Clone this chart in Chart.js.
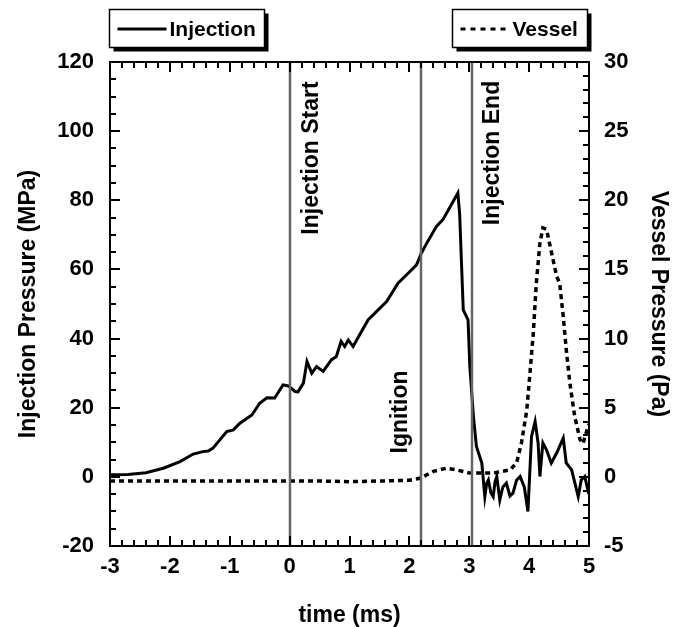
<!DOCTYPE html>
<html lang="en">
<head>
  <meta charset="UTF-8" />
  <title>Injection and Vessel Pressure</title>
  <script src="https://cdn.jsdelivr.net/npm/chart.js"></script>
  <style>
    html, body { margin: 0; padding: 0; background: #fff; }
    #wrap { width: 680px; height: 627px; position: relative; }
  </style>
</head>
<body>
  <div id="wrap"><canvas id="grafico"></canvas></div>

  <script>
    // injection pressure (MPa, left axis)
    const injTime = [-3.00, -2.70, -2.40, -2.11, -1.83, -1.61, -1.45, -1.36, -1.28, -1.05, -0.94, -0.83, -0.63, -0.50, -0.38, -0.25, -0.11, -0.02,
      0.09, 0.14, 0.23, 0.29, 0.37, 0.45, 0.56, 0.70, 0.78, 0.86, 0.92, 0.98, 1.06, 1.17, 1.31, 1.45, 1.62, 1.81, 1.98, 2.12, 2.20, 2.29, 2.45,
      2.56, 2.70, 2.81, 2.84, 2.87, 2.90, 2.98, 3.01, 3.07, 3.12, 3.21, 3.26, 3.29, 3.32, 3.36, 3.40, 3.43, 3.46, 3.51, 3.56, 3.62, 3.68, 3.73,
      3.79, 3.85, 3.92, 3.98, 4.04, 4.10, 4.15, 4.18, 4.23, 4.29, 4.37, 4.46, 4.57, 4.62, 4.71, 4.82, 4.87, 4.93, 4.98, 5.00];
    const injPressure = [0.6, 0.7, 1.2, 2.5, 4.4, 6.6, 7.3, 7.5, 8.3, 13.1, 13.6, 15.5, 17.9, 21.3, 22.9, 22.8, 26.6, 26.3,
      24.7, 24.6, 27.1, 33.4, 30.0, 31.9, 30.5, 33.9, 34.8, 39.2, 37.7, 39.6, 37.7, 41.1, 45.4, 47.8, 50.7, 56.0, 58.9, 61.3, 64.7, 67.6, 72.4,
      74.4, 78.7, 82.1, 76.0, 62.0, 48.3, 45.4, 31.9, 17.4, 8.8, 4.0, -5.7, -2.0, -0.9, -4.5, -5.7, -1.5, 0.1, -6.7, -3.0, -1.8, -5.5, -4.7,
      -1.0, 0.1, -3.0, -10.0, 11.7, 16.0, 9.8, 0.1, 9.8, 7.8, 4.0, 6.9, 11.2, 4.0, 2.0, -5.7, -0.9, 0.1, -3.8, -3.0];

    // vessel pressure (Pa, right axis)
    const vesTime = [-3.00, -1.00, 0.50, 1.00, 1.50, 2.00, 2.18, 2.40, 2.62, 2.79, 3.01, 3.40, 3.68, 3.79, 3.87, 3.96, 4.01, 4.07, 4.12,
      4.18, 4.23, 4.29, 4.35, 4.40, 4.46, 4.51, 4.57, 4.62, 4.68, 4.76, 4.85, 4.90, 4.98, 5.00];
    const vesPressure = [-0.3, -0.3, -0.3, -0.35, -0.3, -0.25, -0.1, 0.4, 0.63, 0.5, 0.27, 0.27, 0.5, 1.0, 2.4, 4.8, 7.3, 10.4, 14.0,
      16.9, 18.0, 17.9, 16.7, 15.7, 14.5, 14.0, 11.6, 9.2, 6.8, 4.4, 2.7, 2.4, 3.6, 3.8];

    // event markers
    const eventTimes = [0, 2.2, 3.05];
    const eventLabels = ['Injection Start', 'Ignition', 'Injection End'];

    const FONT = '"Liberation Sans", Arial, sans-serif';

    const toXY = (xs, ys) => xs.map((x, i) => ({ x: x, y: ys[i] }));

    // inward ticks, frame, event lines, legend boxes
    const decor = {
      id: 'decor',
      afterDatasetsDraw(chart) {
        const ctx = chart.ctx;
        const a = chart.chartArea;
        const sx = chart.scales.x, sy = chart.scales.y, sy1 = chart.scales.y1;
        ctx.save();
        ctx.setLineDash([]);

        // event lines
        ctx.strokeStyle = '#666';
        ctx.lineWidth = 2.5;
        eventTimes.forEach(t => {
          const px = Math.round(sx.getPixelForValue(t));
          ctx.beginPath();
          ctx.moveTo(px, a.top);
          ctx.lineTo(px, a.bottom);
          ctx.stroke();
        });

        // frame
        ctx.strokeStyle = '#000';
        ctx.lineWidth = 2;
        ctx.strokeRect(a.left, a.top, a.right - a.left, a.bottom - a.top);

        // ticks
        ctx.lineWidth = 2;
        ctx.beginPath();
        for (let i = 0; i <= 40; i++) {
          const px = Math.round(sx.getPixelForValue(-3 + i * 0.2));
          const len = i % 5 === 0 ? 10 : 6;
          ctx.moveTo(px, a.bottom); ctx.lineTo(px, a.bottom - len);
          ctx.moveTo(px, a.top); ctx.lineTo(px, a.top + len);
        }
        for (let i = 0; i <= 28; i++) {
          const py = Math.round(sy.getPixelForValue(-20 + i * 5));
          const len = i % 4 === 0 ? 10 : 6;
          ctx.moveTo(a.left, py); ctx.lineTo(a.left + len, py);
        }
        for (let i = 0; i <= 35; i++) {
          const py = Math.round(sy1.getPixelForValue(-5 + i));
          const len = i % 5 === 0 ? 10 : 6;
          ctx.moveTo(a.right, py); ctx.lineTo(a.right - len, py);
        }
        ctx.stroke();

        // event labels (rotated)
        ctx.fillStyle = '#000';
        ctx.font = 'bold 23px ' + FONT;
        ctx.textBaseline = 'middle';
        const placeLabel = (txt, px, cy) => {
          ctx.save();
          ctx.translate(px, cy);
          ctx.rotate(-Math.PI / 2);
          ctx.textAlign = 'center';
          ctx.fillText(txt, 0, 0);
          ctx.restore();
        };
        placeLabel(eventLabels[0], sx.getPixelForValue(eventTimes[0]) + 22, a.top + 96);
        placeLabel(eventLabels[1], sx.getPixelForValue(eventTimes[1]) - 21, a.top + 350);
        placeLabel(eventLabels[2], sx.getPixelForValue(eventTimes[2]) + 20, a.top + 91);

        // legend boxes
        const box = (x, y, w, h, dashed, label) => {
          ctx.fillStyle = '#000';
          ctx.fillRect(x + 4, y + 4, w, h);
          ctx.fillStyle = '#fff';
          ctx.fillRect(x, y, w, h);
          ctx.strokeStyle = '#000';
          ctx.lineWidth = 1.5;
          ctx.setLineDash([]);
          ctx.strokeRect(x, y, w, h);
          ctx.lineWidth = 3;
          if (dashed) ctx.setLineDash([5, 5]);
          ctx.beginPath();
          ctx.moveTo(x + 8, y + 19.5);
          ctx.lineTo(x + 57, y + 19.5);
          ctx.stroke();
          ctx.setLineDash([]);
          ctx.fillStyle = '#000';
          ctx.font = 'bold 21px ' + FONT;
          ctx.textAlign = 'left';
          ctx.textBaseline = 'middle';
          ctx.fillText(label, x + 60, y + 21);
        };
        box(109.5, 9.5, 155, 38, false, chart.data.datasets[0].label);
        box(452.5, 9.5, 135, 38, true, chart.data.datasets[1].label);

        ctx.restore();
      }
    };

    new Chart(document.getElementById('grafico'), {
      type: 'line',
      data: {
        datasets: [
          {
            label: 'Injection',
            data: toXY(injTime, injPressure),
            yAxisID: 'y',
            borderColor: '#000',
            borderWidth: 3,
            pointRadius: 0,
            tension: 0
          },
          {
            label: 'Vessel',
            data: toXY(vesTime, vesPressure),
            yAxisID: 'y1',
            borderColor: '#000',
            borderWidth: 3.5,
            borderDash: [5, 4],
            pointRadius: 0,
            tension: 0
          }
        ]
      },
      options: {
        responsive: true,
        maintainAspectRatio: false,
        animation: false,
        layout: { padding: { top: 62, left: 0, right: 0, bottom: 0 } },
        plugins: { legend: { display: false }, tooltip: { enabled: false } },
        scales: {
          x: {
            type: 'linear', min: -3, max: 5,
            grid: { display: false, drawTicks: false },
            border: { display: false },
            ticks: { stepSize: 1, color: '#000', padding: 8, font: { family: FONT, size: 22, weight: 'bold' } },
            title: { display: true, text: 'time (ms)', color: '#000', padding: { top: 0, bottom: -2 }, font: { family: FONT, size: 23, weight: 'bold' } },
            afterFit: s => { s.height = 81; }
          },
          y: {
            position: 'left', min: -20, max: 120,
            grid: { display: false, drawTicks: false },
            border: { display: false },
            ticks: { stepSize: 20, color: '#000', padding: 16, font: { family: FONT, size: 22, weight: 'bold' } },
            title: { display: true, text: 'Injection Pressure (MPa)', color: '#000', padding: { top: 15, bottom: 0 }, font: { family: FONT, size: 23, weight: 'bold' } },
            afterFit: s => { s.width = 110; }
          },
          y1: {
            position: 'right', min: -5, max: 30,
            grid: { display: false, drawTicks: false },
            border: { display: false },
            ticks: { stepSize: 5, color: '#000', padding: 15, font: { family: FONT, size: 22, weight: 'bold' } },
            title: { display: true, text: 'Vessel Pressure (Pa)', color: '#000', padding: { top: 8, bottom: 0 }, font: { family: FONT, size: 23, weight: 'bold' } },
            afterFit: s => { s.width = 91; }
          }
        }
      },
      plugins: [decor]
    });
  </script>
</body>
</html>
